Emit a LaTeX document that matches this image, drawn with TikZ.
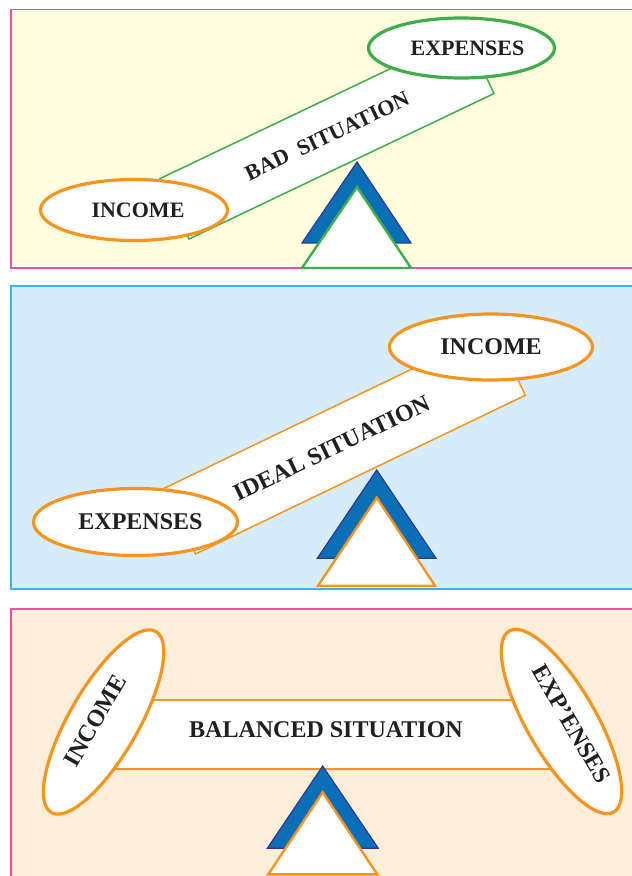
\documentclass[tikz,border=0pt]{standalone}
\usepackage{fontspec}
\setmainfont{Liberation Serif}
\usetikzlibrary{shapes.geometric}
\definecolor{pinkb}{HTML}{EC4F9E}
\definecolor{cyanb}{HTML}{3BB3E6}
\definecolor{yellowbg}{HTML}{FFFCE0}
\definecolor{bluebg}{HTML}{D6EDF9}
\definecolor{peachbg}{HTML}{FDEEDA}
\definecolor{greenl}{HTML}{3DAE49}
\definecolor{orangel}{HTML}{F7941E}
\definecolor{fulblue}{HTML}{0B6FB8}
\definecolor{fulnavy}{HTML}{2E3A8F}
\definecolor{txt}{HTML}{231F20}
\tikzset{
  panel/.style={line width=1.4pt},
  plank/.style={rectangle, fill=white, line width=1.5pt, inner sep=0pt, text=txt},
  oval/.style={ellipse, fill=white, line width=3.2pt, inner sep=0pt, text=txt},
  fulback/.style={fill=fulblue, draw=fulnavy, line width=1.2pt, line join=miter},
  fulfront/.style={fill=white, line width=2.4pt, line join=miter},
  smallfont/.style={font=\fontsize{22}{22}\selectfont\bfseries},
  bigfont/.style={font=\fontsize{24}{24}\selectfont\bfseries}
}
\begin{document}
\begin{tikzpicture}[x=1pt,y=-1pt]
\useasboundingbox (0,0) rectangle (632,876);
\clip (0,0) rectangle (632,876);
\fill[white] (0,0) rectangle (632,876);
% panel 1
\path[panel, draw=pinkb, fill=yellowbg] (11,9.5) rectangle (645,268);
\node[plank, draw=greenl, smallfont, minimum width=338pt, minimum height=67pt, rotate=25.5] (p1) at (327.1,136) {BAD\ \ SITUATION};
\node[oval, draw=greenl, smallfont, minimum width=186pt, minimum height=60pt] (e1) at (461.5,48) {\hspace{12pt}EXPENSES};
\node[oval, draw=orangel, smallfont, minimum width=187pt, minimum height=61pt] (i1) at (134,210) {\hspace{8pt}INCOME};
\path[fulback] (357,162) -- (411,243) -- (302,243) -- cycle;
\path[fulfront, draw=greenl] (357,187) -- (411,268) -- (302,268) -- cycle;
% panel 2
\path[panel, draw=cyanb, fill=bluebg] (11,286) rectangle (645,589);
\node[plank, draw=orangel, bigfont, minimum width=366pt, minimum height=72.8pt, rotate=25.7] (p2) at (344.7,441.8) {IDEAL SITUATION\kern29pt};
\node[oval, draw=orangel, bigfont, minimum width=203pt, minimum height=66pt] (i2) at (491,347) {INCOME};
\node[oval, draw=orangel, bigfont, minimum width=204pt, minimum height=67pt] (e2) at (135.5,522) {\hspace{10pt}EXPENSES};
\path[fulback] (376.7,470) -- (436,558.3) -- (317.3,558.3) -- cycle;
\path[fulfront, draw=orangel] (376.7,497.7) -- (435,585.7) -- (318,585.7) -- cycle;
% panel 3
\path[panel, draw=pinkb, fill=peachbg] (11,609) rectangle (645,890);
\node[plank, draw=orangel, bigfont, line width=2pt, minimum width=452pt, minimum height=69.3pt, text depth=9.4pt] (p3) at (326,734.7) {BALANCED SITUATION};
\node[oval, draw=orangel, bigfont, minimum width=209pt, minimum height=69pt, rotate=60, text depth=16pt] (i3) at (103.6,722) {INCOME\kern6.6pt};
\node[oval, draw=orangel, bigfont, minimum width=209pt, minimum height=69pt, rotate=-60, text depth=15pt] (e3) at (561.5,721.5) {\hspace{14.6pt}EXP'ENSES};
\path[fulback] (322.7,766) -- (378.3,848.3) -- (267.3,848.3) -- cycle;
\path[fulfront, draw=orangel] (322.7,792.3) -- (377.3,874.3) -- (268.3,874.3) -- cycle;
\end{tikzpicture}
\end{document}
